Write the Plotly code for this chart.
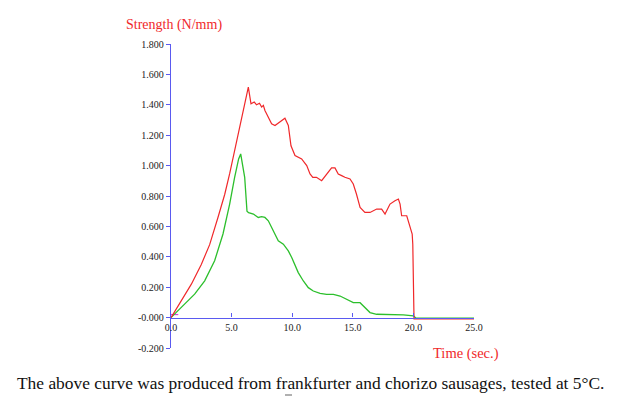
import plotly.graph_objects as go

# Red curve (frankfurter) - time (s), strength (N/mm)
red_t = [0, 0.85, 1.68, 2.5, 3.19, 3.88, 4.43, 4.85, 5.55, 6.38, 6.6, 6.87, 7.06, 7.3, 7.48, 7.62, 7.75,
         7.95, 8.3, 8.58, 8.99, 9.4, 9.68, 9.9, 10.23, 10.78, 11.2, 11.47, 11.7, 12.0, 12.43, 12.84,
         13.25, 13.53, 13.8, 14.08, 14.35, 14.77, 15.04, 15.3, 15.6, 16.0, 16.42, 16.97, 17.38, 17.66,
         18.07, 18.48, 18.76, 18.9, 19.03, 19.45, 19.72, 19.9, 19.95, 20.0, 20.05, 25.0]
red_v = [0.0, 0.11, 0.22, 0.35, 0.48, 0.66, 0.81, 0.95, 1.2, 1.516, 1.406, 1.418, 1.40, 1.41, 1.385,
         1.396, 1.363, 1.33, 1.275, 1.264, 1.286, 1.312, 1.264, 1.13, 1.066, 1.044, 1.0, 0.945, 0.923,
         0.923, 0.901, 0.945, 0.985, 0.985, 0.945, 0.934, 0.923, 0.912, 0.879, 0.813, 0.725, 0.692,
         0.692, 0.714, 0.714, 0.681, 0.747, 0.769, 0.780, 0.747, 0.670, 0.670, 0.593, 0.549, 0.483,
         0.02, -0.008, -0.008]

# Green curve (chorizo)
green_t = [0, 1.13, 1.95, 2.78, 3.6, 4.29, 4.84, 5.25, 5.58, 5.75, 6.08, 6.27, 6.4, 6.8, 7.2, 7.48, 7.75,
           8.03, 8.3, 8.58, 8.85, 9.27, 9.68, 9.96, 10.23, 10.5, 10.92, 11.33, 11.74, 12.3, 12.84, 13.4,
           13.95, 14.5, 15.04, 15.6, 16.0, 16.42, 16.97, 19.17, 20.0, 20.2, 25.0]
green_v = [0.0, 0.088, 0.154, 0.242, 0.374, 0.55, 0.747, 0.923, 1.044, 1.077, 0.923, 0.70, 0.69, 0.681,
           0.659, 0.664, 0.659, 0.637, 0.593, 0.549, 0.505, 0.483, 0.439, 0.395, 0.340, 0.296, 0.241,
           0.197, 0.175, 0.160, 0.153, 0.153, 0.142, 0.120, 0.098, 0.098, 0.065, 0.033, 0.022, 0.018,
           0.011, -0.003, -0.003]

x_ticks = [0, 5, 10, 15, 20, 25]
x_labels = ["0.0", "5.0", "10.0", "15.0", "20.0", "25.0"]
y_ticks = [-0.2, 0.0, 0.2, 0.4, 0.6, 0.8, 1.0, 1.2, 1.4, 1.6, 1.8]
y_labels = ["-0.200", "-0.000", "0.200", "0.400", "0.600", "0.800", "1.000", "1.200", "1.400", "1.600", "1.800"]

caption = "The above curve was produced from frankfurter and chorizo sausages, tested at 5\u00b0C."

RED = "#f0282a"
GREEN = "#2cbf2c"
BLUE = "#5a5af0"
SERIF = "Liberation Serif, Times New Roman, serif"

L, R, T, B = 171, 150, 44, 51
W, H = 624, 399

fig = go.Figure()
fig.add_trace(go.Scatter(x=[-0.75, 0.6], y=[0.02, 0.02], mode="lines",
                         line=dict(color="#e040e0", width=1.2), hoverinfo="skip"))
fig.add_trace(go.Scatter(x=green_t, y=green_v, mode="lines", line=dict(color=GREEN, width=1.3)))
fig.add_trace(go.Scatter(x=red_t, y=red_v, mode="lines", line=dict(color=RED, width=1.2)))

pw, ph = W - L - R, H - T - B


def px2paper(px, py):
    return (px - L) / pw, 1 - (py - T) / ph


ann = []
for text, px, py, size, color in [
    ("Strength (N/mm)", 174, 25, 14, RED),
    ("Time (sec.)", 466, 353, 14.5, RED),
    (caption, 310, 383, 17.4, "#111111"),
]:
    ax, ay = px2paper(px, py)
    ann.append(dict(text=text, x=ax, y=ay, xref="paper", yref="paper", xanchor="center",
                    yanchor="middle", showarrow=False, font=dict(family=SERIF, size=size, color=color)))

gx, gy = px2paper(285, 396)
fig.add_shape(type="rect", xref="paper", yref="paper", x0=gx, x1=gx + 7 / pw, y0=gy, y1=gy + 2 / ph,
              fillcolor="#b0b0b0", line=dict(width=0))

fig.update_layout(
    width=W, height=H,
    margin=dict(l=L, r=R, t=T, b=B),
    paper_bgcolor="white", plot_bgcolor="white",
    showlegend=False,
    hovermode=False,
    font=dict(family=SERIF, size=10, color="#222222"),
    xaxis=dict(range=[0, 25], tickvals=x_ticks, ticktext=x_labels, showgrid=False, zeroline=False,
               showline=True, linecolor=BLUE, linewidth=1.3, ticks="inside", ticklen=4,
               tickcolor=BLUE, anchor="free", position=0.1, tickfont=dict(family=SERIF, size=10),
               fixedrange=True),
    yaxis=dict(range=[-0.2, 1.8], tickvals=y_ticks, ticktext=y_labels, showgrid=False, zeroline=False,
               showline=True, linecolor=BLUE, linewidth=1.3, ticks="outside", ticklen=4,
               tickcolor=BLUE, tickfont=dict(family=SERIF, size=10), fixedrange=True),
    annotations=ann,
)

fig.write_html("out.html", config={"displayModeBar": False},
               post_script="document.body.style.margin='0';document.body.style.padding='0';")
